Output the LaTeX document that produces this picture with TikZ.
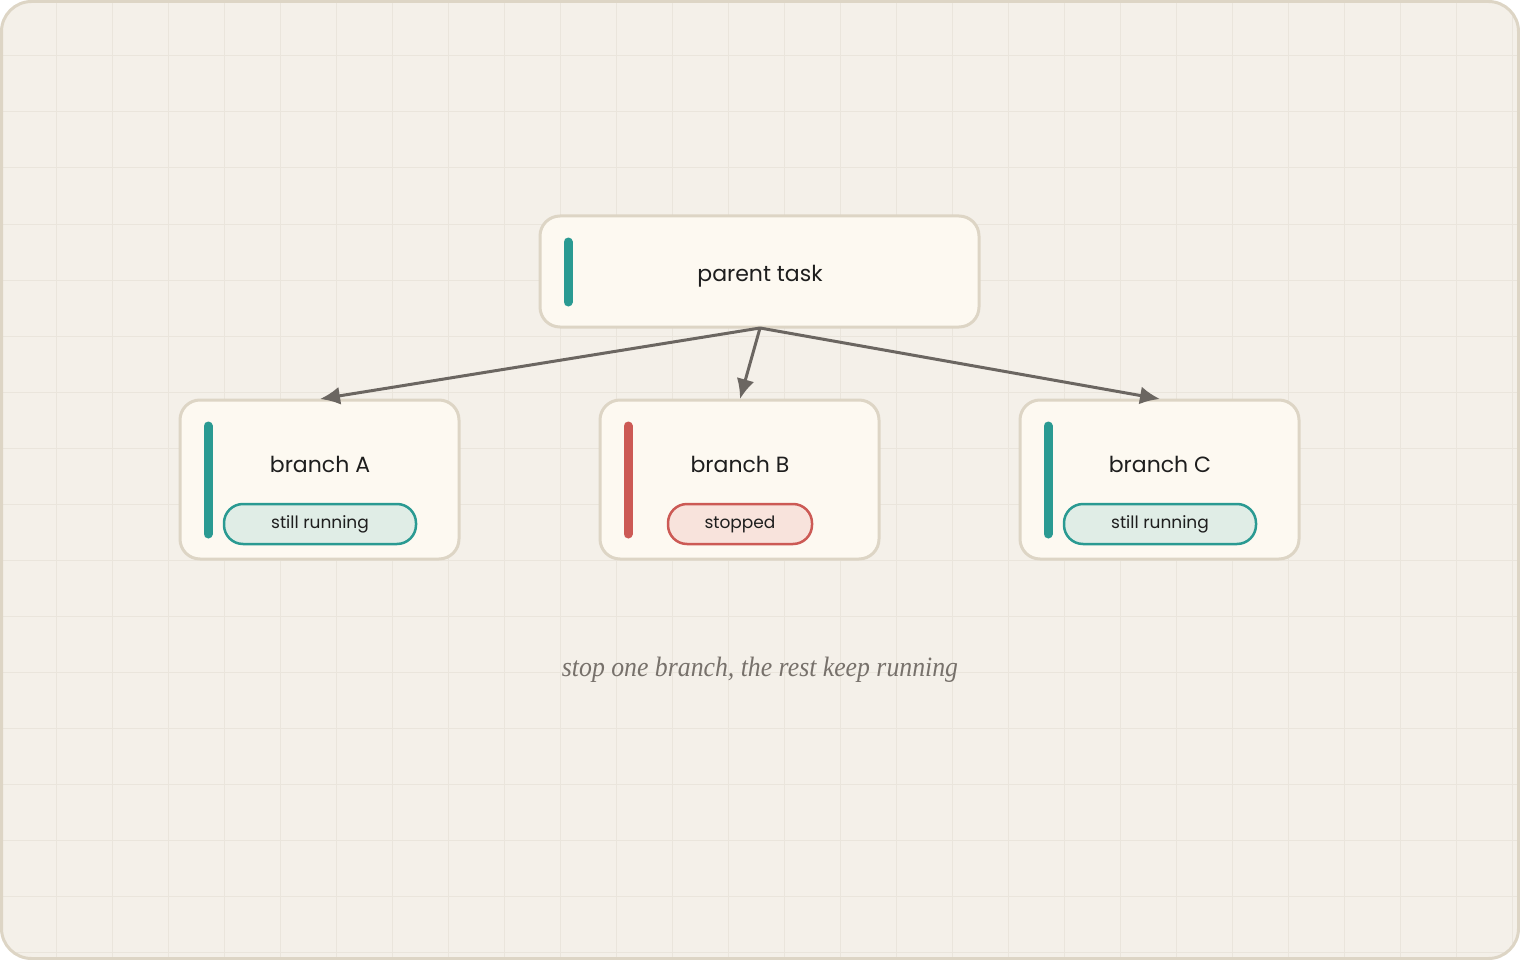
\documentclass[tikz,border=0pt]{standalone}
\usepackage{fontspec}
\setmainfont{Poppins}
\newfontfamily\capfont{Liberation Serif}
\usetikzlibrary{arrows.meta}
\definecolor{bg}{HTML}{F4F0E9}
\definecolor{gridc}{HTML}{EAE5DC}
\definecolor{bord}{HTML}{DDD5C5}
\definecolor{card}{HTML}{FDF9F1}
\definecolor{teal}{HTML}{2A9A92}
\definecolor{tealf}{HTML}{E0EDE6}
\definecolor{redc}{HTML}{CC5A55}
\definecolor{redf}{HTML}{F8E3DC}
\definecolor{arr}{HTML}{6B6661}
\definecolor{capc}{HTML}{77716B}
\definecolor{txt}{HTML}{1E1E1E}
\begin{document}
\begin{tikzpicture}[x=1pt,y=-1pt,
  box/.style={draw=bord,line width=3pt,fill=card,rounded corners=20pt},
  bar/.style={line width=9pt,line cap=round},
  title/.style={font=\fontsize{22}{26}\selectfont,text=txt},
  pill/.style={draw,line width=2.5pt,rounded corners=19pt,minimum height=40pt,font=\fontsize{17}{22}\selectfont,text=txt,inner sep=0pt},
  con/.style={draw=arr,line width=3pt,-{Latex[length=20pt,width=18pt]}}]
\useasboundingbox (0,0) rectangle (1520,960);
\begin{scope}
\clip[rounded corners=30pt] (1.5,1.5) rectangle (1518.5,958.5);
\fill[bg] (0,0) rectangle (1520,960);
\foreach \i in {1,...,27} \draw[gridc,line width=1pt] (\i*56,0) -- (\i*56,960);
\foreach \i in {1,...,17} \draw[gridc,line width=1pt] (0,\i*56) -- (1520,\i*56);
\end{scope}
\draw[bord,line width=3pt,rounded corners=30pt] (1.5,1.5) rectangle (1518.5,958.5);

\draw[box] (540,216) rectangle (979,327);
\draw[bar,teal] (568,242) -- (568,302);
\node[title] (p) at (760,276) {parent task};
\coordinate (ps) at (760,328);

\foreach \x/\n/\l/\c/\f/\s/\w in {180/A/A/teal/tealf/still running/192,600/B/B/redc/redf/stopped/144,1020/C/C/teal/tealf/still running/192}{
  \draw[box] (\x,400) rectangle (\x+279,559);
  \draw[bar,\c] (\x+28,426) -- (\x+28,534);
  \node[title] (t\n) at (\x+140,464) {branch \l};
  \node[pill,draw=\c,fill=\f,minimum width=\w pt] (s\n) at (\x+140,524) {\s};
  \coordinate (e\n) at (\x+140,399);
}
\draw[con] (ps) -- (eA);
\draw[con] (ps) -- (eB);
\draw[con] (ps) -- (eC);
\node[font=\capfont\itshape\fontsize{28}{32}\selectfont,text=capc,xscale=0.92] (cap) at (760,670) {stop one branch, the rest keep running};
\end{tikzpicture}
\end{document}
